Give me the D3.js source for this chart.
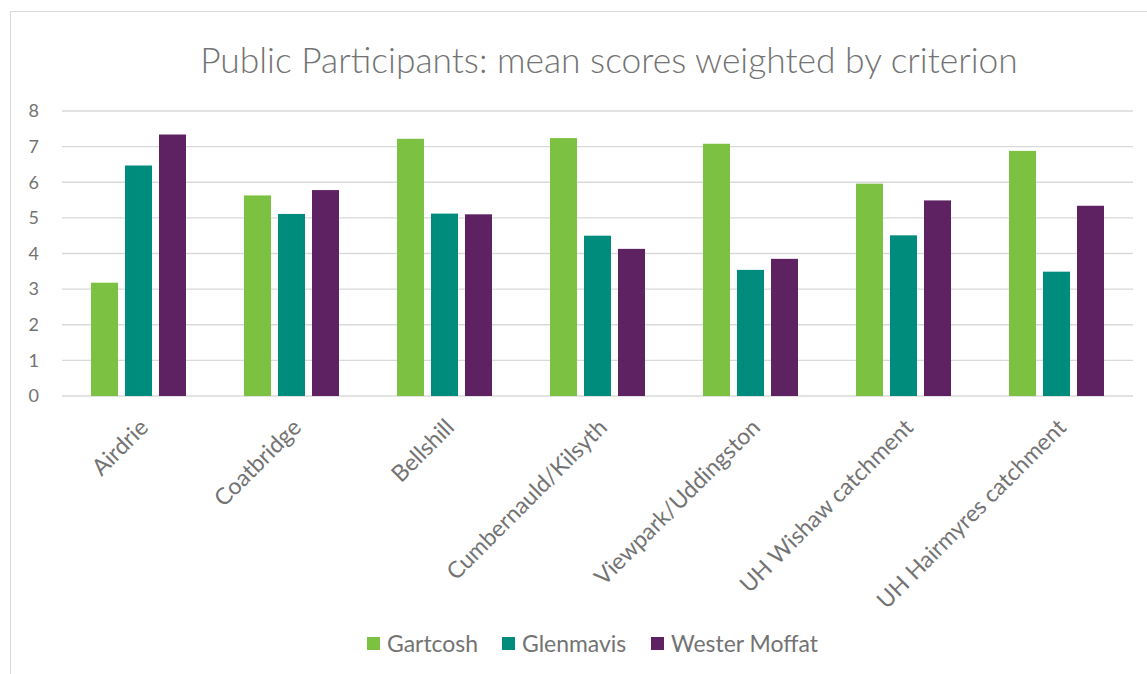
<!DOCTYPE html>
<html>
<head>
<meta charset="utf-8">
<script src="https://cdnjs.cloudflare.com/ajax/libs/d3/7.8.5/d3.min.js"></script>
<style>
  body { margin: 0; background: #fff; }
  text { font-family: Lato, "Open Sans", sans-serif; fill: #737373; }
</style>
</head>
<body>
<div id="chart"></div>
<script>
var categories = ["Airdrie", "Coatbridge", "Bellshill", "Cumbernauld/Kilsyth",
  "Viewpark/Uddingston", "UH Wishaw catchment", "UH Hairmyres catchment"];
var seriesNames = ["Gartcosh", "Glenmavis", "Wester Moffat"];
var gartcosh = [3.18, 5.63, 7.22, 7.24, 7.08, 5.96, 6.88];
var glenmavis = [6.47, 5.11, 5.12, 4.50, 3.54, 4.51, 3.49];
var westerMoffat = [7.34, 5.78, 5.10, 4.13, 3.85, 5.49, 5.34];
var yTicks = [0, 1, 2, 3, 4, 5, 6, 7, 8];
var colors = ["#7cc142", "#008c7c", "#5e2262"];

var width = 1147, height = 674;
var plotLeft = 62, plotRight = 1133, plotTop = 111, plotBottom = 396;

var svg = d3.select("#chart").append("svg")
  .attr("width", width).attr("height", height);

// make a text fit a given width by scaling its font size
function fitText(sel, target) {
  var fs = parseFloat(sel.style("font-size"));
  var w = sel.node().getComputedTextLength();
  sel.style("font-size", (fs * target / w) + "px");
  return fs * target / w;
}

// chart frame
svg.append("rect")
  .attr("x", 10.5).attr("y", 11.5)
  .attr("width", 1160).attr("height", 680)
  .attr("fill", "none").attr("stroke", "#d9d9d9");

var x = d3.scaleBand().domain(categories).range([plotLeft, plotRight]);
var y = d3.scaleLinear().domain([0, 8]).range([plotBottom, plotTop]);

// gridlines
svg.selectAll(".grid").data(yTicks).enter().append("line")
  .attr("x1", plotLeft).attr("x2", plotRight)
  .attr("y1", function(d) { return y(d); })
  .attr("y2", function(d) { return y(d); })
  .attr("stroke", "#d9d9d9").attr("stroke-width", 1.3);

// y labels
svg.selectAll(".ylab").data(yTicks).enter().append("text")
  .attr("x", 39).attr("y", function(d) { return y(d); })
  .attr("dy", "0.35em").attr("text-anchor", "end")
  .style("font-size", "18px")
  .text(function(d) { return d; });

var data = [gartcosh, glenmavis, westerMoffat];
var barW = 27, step = 34;

data.forEach(function(vals, s) {
  svg.selectAll(".bar" + s).data(vals).enter().append("rect")
    .attr("x", function(d, i) {
      return x(categories[i]) + x.bandwidth() / 2 - barW / 2 + (s - 1) * step;
    })
    .attr("y", function(d) { return y(d); })
    .attr("width", barW)
    .attr("height", function(d) { return y(0) - y(d); })
    .attr("fill", colors[s]);
});

// x labels rotated
var xl = svg.selectAll(".xlab").data(categories).enter().append("text")
  .attr("transform", function(d) {
    return "translate(" + (x(d) + x.bandwidth() / 2 + 11) + "," + 429 + ") rotate(-45)";
  })
  .attr("text-anchor", "end")
  .style("font-size", "19px")
  .text(function(d) { return d; });
var xfs = fitText(d3.select(xl.nodes()[6]), 256);
xl.style("font-size", xfs + "px");

// title
var title = svg.append("text")
  .attr("x", 609).attr("y", 73)
  .attr("text-anchor", "middle")
  .style("font-size", "31px")
  .style("font-weight", 300)
  .text("Public Participants: mean scores weighted by criterion");
fitText(title, 818);

// legend
var legendX = [367, 502, 651];
var lg = svg.selectAll(".legend").data(seriesNames).enter().append("g")
  .attr("transform", function(d, i) { return "translate(" + legendX[i] + ",637)"; });
lg.append("rect").attr("width", 13).attr("height", 13)
  .attr("fill", function(d, i) { return colors[i]; });
var lt = lg.append("text").attr("x", 20).attr("y", 7).attr("dy", "0.36em")
  .style("font-size", "19px")
  .text(function(d) { return d; });
var lfs = fitText(d3.select(lt.nodes()[2]), 147);
lt.style("font-size", lfs + "px");
</script>
</body>
</html>
